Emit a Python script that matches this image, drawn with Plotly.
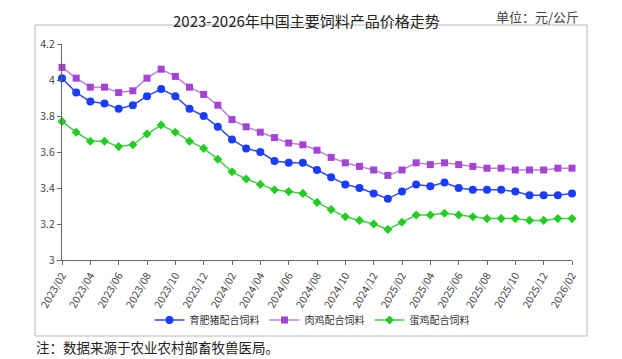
import plotly.graph_objects as go

months = [f"{y}/{m:02d}" for y, m in
          [(2023, m) for m in range(2, 13)] + [(2024, m) for m in range(1, 13)] +
          [(2025, m) for m in range(1, 13)] + [(2026, m) for m in range(1, 3)]]

pig = [4.01, 3.93, 3.88, 3.87, 3.84, 3.86, 3.91, 3.95, 3.91, 3.84, 3.80, 3.74,
       3.67, 3.62, 3.60, 3.55, 3.54, 3.54, 3.50, 3.46, 3.42, 3.40, 3.37, 3.34,
       3.38, 3.42, 3.41, 3.43, 3.40, 3.39, 3.39, 3.39, 3.38, 3.36, 3.36, 3.36, 3.37]
broiler = [4.07, 4.01, 3.96, 3.96, 3.93, 3.94, 4.01, 4.06, 4.02, 3.96, 3.92, 3.86,
           3.78, 3.74, 3.71, 3.68, 3.65, 3.64, 3.61, 3.57, 3.54, 3.52, 3.50, 3.47,
           3.50, 3.54, 3.53, 3.54, 3.53, 3.52, 3.51, 3.51, 3.50, 3.50, 3.50, 3.51, 3.51]
layer = [3.77, 3.71, 3.66, 3.66, 3.63, 3.64, 3.70, 3.75, 3.71, 3.66, 3.62, 3.56,
         3.49, 3.45, 3.42, 3.39, 3.38, 3.37, 3.32, 3.28, 3.24, 3.22, 3.20, 3.17,
         3.21, 3.25, 3.25, 3.26, 3.25, 3.24, 3.23, 3.23, 3.23, 3.22, 3.22, 3.23, 3.23]

series = [
    ("育肥猪配合饲料", pig, "#2b4cf5", "#1a3cff", "circle", 8),
    ("肉鸡配合饲料", broiler, "#c07ee0", "#a444d4", "square", 7),
    ("蛋鸡配合饲料", layer, "#44d044", "#22cc22", "diamond", 7),
]

FONT = "Noto Sans CJK SC"
OFF = 8  # page body margin
W, H = 622 - OFF, 359 - OFF

fig = go.Figure()
for name, vals, lc, mc, sym, sz in series:
    fig.add_trace(go.Scatter(
        x=months, y=vals, name=name, mode="lines+markers",
        line=dict(color=lc, width=1.5),
        marker=dict(color=mc, symbol=sym, size=sz),
        cliponaxis=False,
    ))

# outer box (paper area) and data area, in reference page pixels
BL, BR, BT, BB = 35, 587, 25, 336
L, R, T, B = 62, 572, 44, 260
bw, bh = BR - BL, BB - BT
def px(x): return (x - BL) / bw
def py(y): return (BB - y) / bh

fig.update_layout(
    width=W, height=H,
    margin=dict(l=BL - OFF, r=622 - BR, t=BT - OFF, b=359 - BB, autoexpand=False),
    paper_bgcolor="white", plot_bgcolor="rgba(0,0,0,0)",
    font=dict(family=FONT, color="#333333", size=11),
    showlegend=True,
    legend=dict(orientation="h", x=px(312), xanchor="center", y=py(320), yanchor="middle",
                font=dict(size=10, color="#333333"), itemwidth=30,
                bgcolor="rgba(0,0,0,0)"),
    xaxis=dict(type="category", range=[0, len(months) - 1], domain=[px(L), px(R)],
               tickmode="array", tickvals=months[::2], ticktext=months[::2],
               tickangle=-60, showgrid=False, showline=True, linecolor="#666666",
               linewidth=1.2, ticks="outside", ticklen=4, tickcolor="#666666",
               tickfont=dict(size=10.5, color="#444444")),
    yaxis=dict(range=[3, 4.2], dtick=0.2, tick0=3, domain=[py(B), py(T)],
               showgrid=False, zeroline=False,
               showline=True, linecolor="#666666", linewidth=1.2, ticks="outside",
               ticklen=4, tickcolor="#666666",
               tickfont=dict(size=10.5, color="#444444")),
    shapes=[dict(type="rect", xref="paper", yref="paper", x0=0, x1=1, y0=0, y1=1,
                 line=dict(color="#b8b8b8", width=1), layer="above")],
    annotations=[
        dict(text="2023-2026年中国主要饲料产品价格走势", xref="paper", yref="paper",
             x=px(306), y=py(8), xanchor="center", yanchor="top", showarrow=False,
             font=dict(size=15, color="#222222", family=FONT)),
        dict(text="单位：元/公斤", xref="paper", yref="paper",
             x=px(581), y=py(16), xanchor="right", yanchor="middle", showarrow=False,
             font=dict(size=13, color="#444444", family=FONT)),
        dict(text="注：数据来源于农业农村部畜牧兽医局。", xref="paper", yref="paper",
             x=px(34), y=py(347), xanchor="left", yanchor="middle", showarrow=False,
             font=dict(size=13.5, color="#222222", family=FONT)),
    ],
)

fig.write_html("out.html")
